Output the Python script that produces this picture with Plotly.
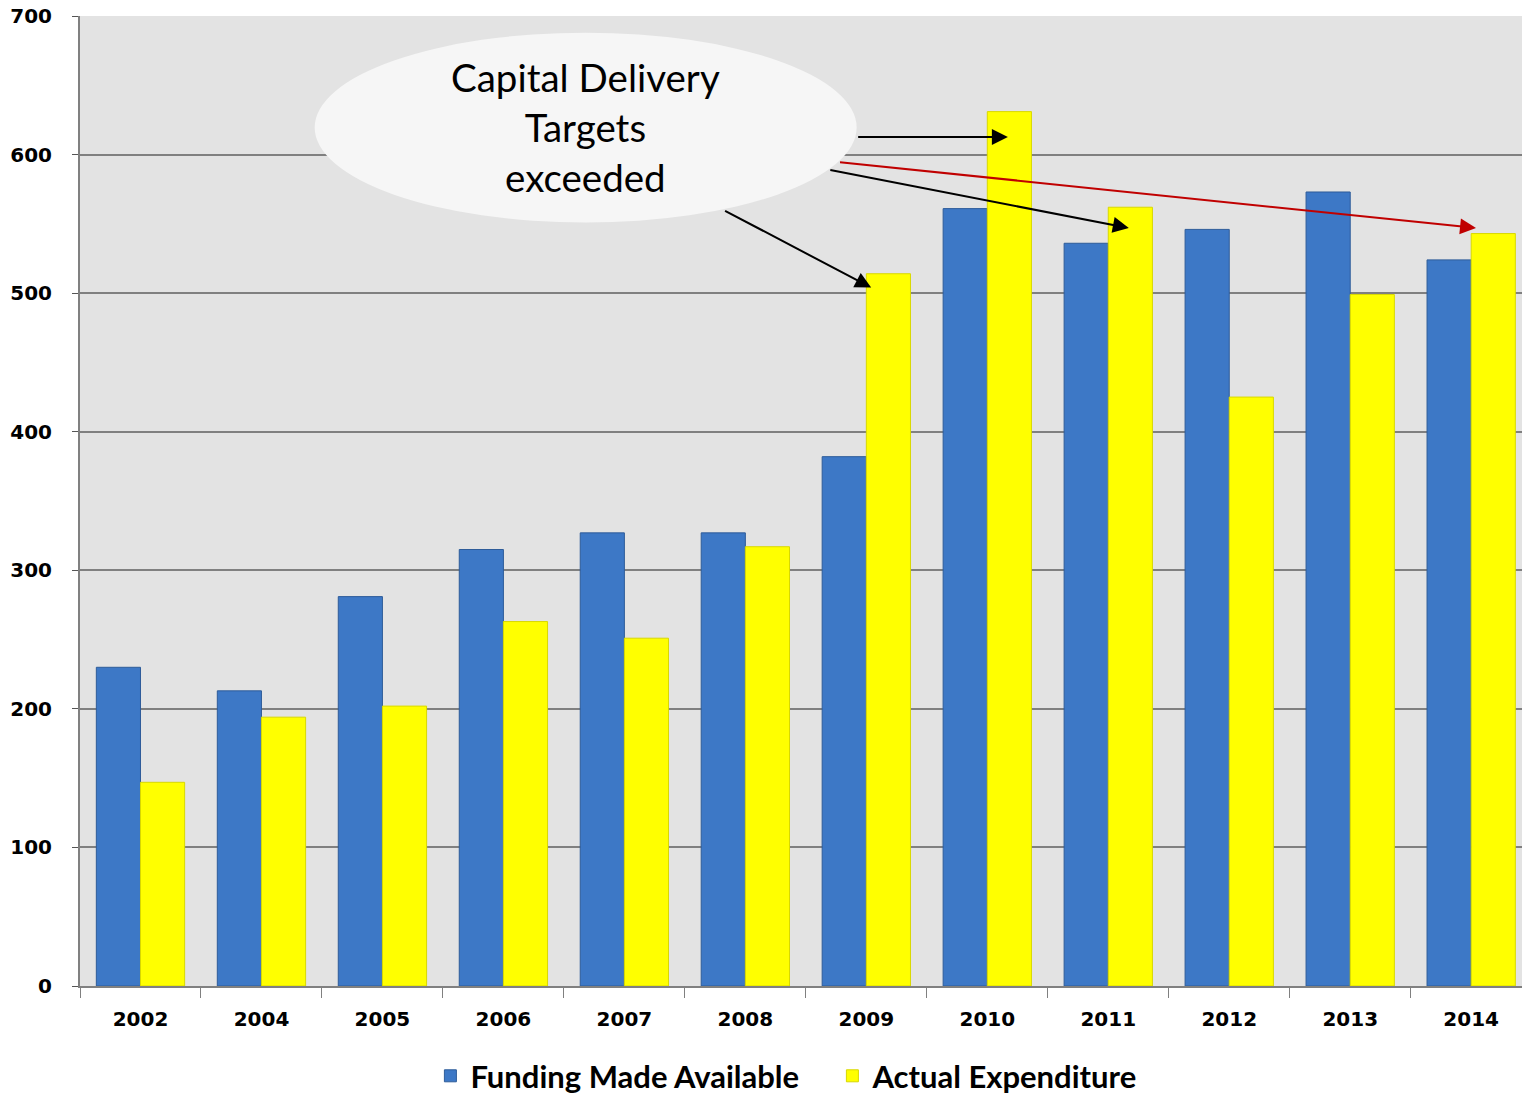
import plotly.graph_objects as go

years = ['2002', '2004', '2005', '2006', '2007', '2008',
         '2009', '2010', '2011', '2012', '2013', '2014']
funding = [230, 213, 281, 315, 327, 327, 382, 561, 536, 546, 573, 524]
expenditure = [147, 194, 202, 263, 251, 317, 514, 631, 562, 425, 499, 543]
y_ticks = [0, 100, 200, 300, 400, 500, 600, 700]

BLUE = '#3d78c6'
YELLOW = '#ffff00'
GRID = '#808080'

fig = go.Figure()
fig.add_trace(go.Bar(
    x=years, y=funding, name='Funding Made Available',
    marker=dict(color=BLUE, line=dict(color='#2e5c99', width=1)),
))
fig.add_trace(go.Bar(
    x=years, y=expenditure, name='Actual Expenditure',
    marker=dict(color=YELLOW, line=dict(color='#d8d800', width=1)),
))

# callout ellipse
fig.add_shape(
    type='circle', xref='x', yref='y',
    x0=1.44, x1=5.92, y0=551, y1=688,
    fillcolor='#f6f6f6', line=dict(width=0), layer='above',
)
fig.add_annotation(
    x=3.68, y=620, xref='x', yref='y', showarrow=False,
    text='Capital Delivery<br>Targets<br>exceeded',
    font=dict(family='Lato, Open Sans, sans-serif', size=38.5, color='black'),
    align='center',
)

# arrows: (start_x, start_y, end_x, end_y, colour)
arrows = [
    (5.92, 612.7, 7.17, 612.7, 'black'),
    (5.69, 589, 8.17, 547, 'black'),
    (4.82, 560, 6.04, 504, 'black'),
    (5.77, 594.6, 11.04, 547, '#c00000'),
]
for ax0, ay0, ax1, ay1, col in arrows:
    fig.add_annotation(
        x=ax1, y=ay1, ax=ax0, ay=ay0,
        xref='x', yref='y', axref='x', ayref='y',
        showarrow=True, arrowhead=2, arrowsize=1.6, arrowwidth=2,
        arrowcolor=col, text='',
    )

fig.update_layout(
    width=1522, height=1097,
    margin=dict(l=80, r=0, t=16, b=111, autoexpand=False),
    paper_bgcolor='white', plot_bgcolor='#e3e3e3',
    barmode='group', bargap=0.27, bargroupgap=0,
    showlegend=True,
    legend=dict(
        orientation='h', x=0.243, xanchor='left',
        yref='container', y=0.019, yanchor='middle',
        font=dict(family='Lato, sans-serif', size=31, color='black', weight='bold'),
        entrywidth=357, entrywidthmode='pixels', itemwidth=30,
        traceorder='normal',
    ),
    font=dict(family='DejaVu Sans, Verdana, sans-serif', color='black'),
)
fig.update_xaxes(
    type='category', range=[-0.5, 11.42],
    showline=True, linecolor=GRID, linewidth=2,
    ticks='outside', tickson='boundaries', ticklen=10, tickcolor=GRID, tickwidth=1,
    ticklabelstandoff=14,
    tickfont=dict(family='DejaVu Sans, sans-serif', size=20, color='black', weight='bold'),
    showgrid=False,
)
fig.update_yaxes(
    range=[0, 700], tickvals=y_ticks,
    showline=True, linecolor=GRID, linewidth=2,
    ticks='outside', ticklen=6, tickcolor='#555555',
    ticklabelstandoff=16,
    tickfont=dict(family='DejaVu Sans, sans-serif', size=20, color='black', weight='bold'),
    showgrid=True, gridcolor=GRID, gridwidth=2,
    zeroline=False,
)

# drop the browser's default body margin so the figure sits at the page corner
fig.write_html('out.html', config={'displayModeBar': False},
               post_script="document.body.style.margin='0';")
